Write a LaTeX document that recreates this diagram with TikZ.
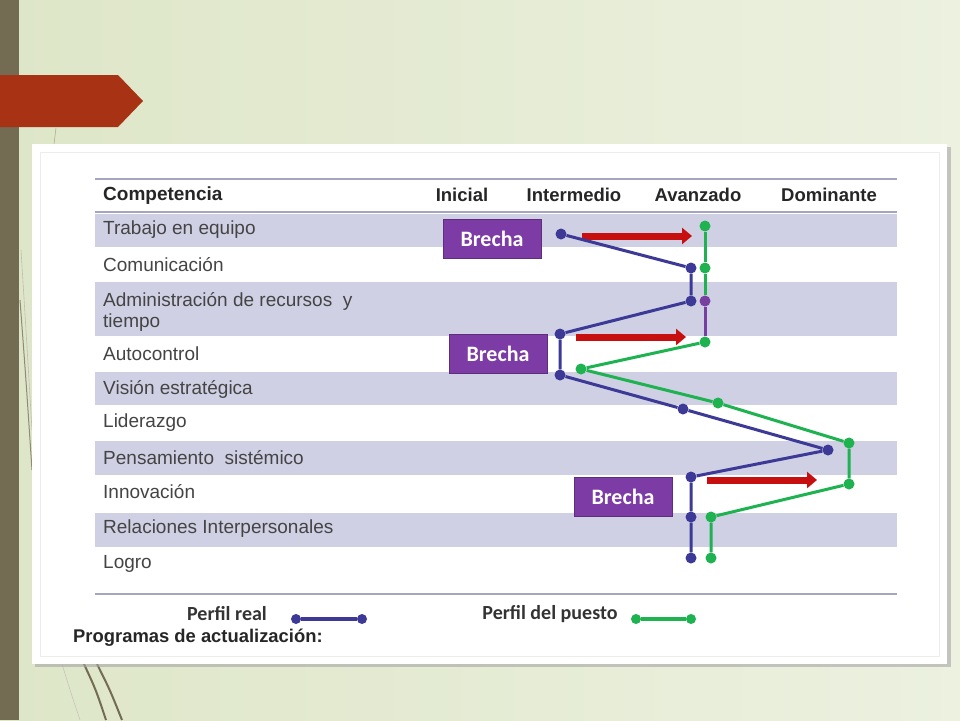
\documentclass[tikz,border=0pt]{standalone}
\usepackage{fontspec}
\setmainfont{Liberation Sans}
\newfontfamily\calibri{Carlito}
\usetikzlibrary{arrows.meta}

\definecolor{fondoA}{RGB}{222,230,200}
\definecolor{fondoB}{RGB}{236,241,224}
\definecolor{barra}{RGB}{115,107,82}
\definecolor{ladrillo}{RGB}{168,50,20}
\definecolor{banda}{RGB}{207,208,228}
\definecolor{regla}{RGB}{165,165,192}
\definecolor{texto}{RGB}{68,68,68}
\definecolor{azulreal}{RGB}{60,58,150}
\definecolor{verdepuesto}{RGB}{30,178,80}
\definecolor{morado}{RGB}{125,60,165}
\definecolor{violeta}{RGB}{120,62,160}
\definecolor{rojoflecha}{RGB}{200,15,15}

\tikzset{
  fila/.style={anchor=west, text=texto, font=\fontsize{19}{21.5}\selectfont, inner sep=0pt},
  nivel/.style={text=black!85, font=\bfseries\fontsize{18.5}{21}\selectfont, inner sep=0pt},
  rpt/.style={circle, fill=azulreal, inner sep=0pt, minimum size=11pt},
  ppt/.style={circle, fill=verdepuesto, inner sep=0pt, minimum size=11pt},
  realline/.style={draw=azulreal, line width=3pt},
  puestoline/.style={draw=verdepuesto, line width=3pt},
  brecha/.style={fill=morado, draw=morado!75!black, text=white, font=\calibri\bfseries\fontsize{22}{24}\selectfont, minimum width=98pt, minimum height=39pt},
  salto/.style={draw=rojoflecha, line width=7pt, -{Triangle[length=10pt,width=16pt]}},
  leyenda/.style={text=black!80, font=\calibri\bfseries\fontsize{20}{22}\selectfont, inner sep=0pt}
}

\begin{document}
\begin{tikzpicture}[x=1pt, y=-1pt]
    \useasboundingbox (0,0) rectangle (960,720);
    \shade[left color=fondoA, right color=fondoB] (0,0) rectangle (960,720);
    \fill[barra] (0,0) rectangle (19,720);
    \fill[ladrillo] (0,75) -- (118,75) -- (143,101) -- (118,127) -- (0,127) -- cycle;

    \draw[barra!45, line width=0.6pt] (21,250) .. controls (26,330) .. (32,430);
    \draw[barra!80, line width=1pt] (20,300) .. controls (26,380) .. (32,470);
    \draw[barra!60, line width=0.5pt] (56,128) -- (54,144);
    \draw[barra!40, line width=0.6pt] (62,664) .. controls (70,690) .. (80,720);
    \draw[barra, line width=2pt] (84,664) .. controls (96,690) .. (106,720);
    \draw[barra, line width=2pt] (97,664) .. controls (110,690) .. (122,720);

    \fill[black!35, opacity=0.6] (35,147) rectangle (951,667);
    \fill[white] (32,144) rectangle (947,664);
    \draw[black!7, line width=1pt] (40,152) rectangle (939,656);

    \fill[banda] (95,214) rectangle (897,247);
    \fill[banda] (95,282) rectangle (897,336);
    \fill[banda] (95,372) rectangle (897,405);
    \fill[banda] (95,441) rectangle (897,475);
    \fill[banda] (95,513) rectangle (897,547);
    \draw[regla, line width=2pt] (95,179) -- (897,179);
    \draw[regla, line width=2pt] (95,212) -- (897,212);
    \draw[regla, line width=2pt] (95,594) -- (897,594);

    \node[nivel, anchor=west, font=\bfseries\fontsize{19}{21}\selectfont] (competencia) at (103,196) {Competencia};
    \node[nivel] (inicial) at (462,195) {Inicial};
    \node[nivel] (intermedio) at (574,195) {Intermedio};
    \node[nivel] (avanzado) at (698,195) {Avanzado};
    \node[nivel] (dominante) at (829,195) {Dominante};

    \node[fila] (trabajo) at (103,230) {Trabajo en equipo};
    \node[fila] (comunicacion) at (103,265) {Comunicación};
    \node[fila, align=left] (administracion) at (103,312) {Administración de recursos~ y\\tiempo};
    \node[fila] (autocontrol) at (103,354) {Autocontrol};
    \node[fila] (vision) at (103,389) {Visión estratégica};
    \node[fila] (liderazgo) at (103,423) {Liderazgo};
    \node[fila] (pensamiento) at (103,458) {Pensamiento~ sistémico};
    \node[fila] (innovacion) at (103,492) {Innovación};
    \node[fila] (relaciones) at (103,529) {Relaciones Interpersonales};
    \node[fila] (logro) at (103,564) {Logro};

    \node[brecha] (brecha1) at (492,239) {Brecha};
    \node[brecha] (brecha2) at (498,354) {Brecha};
    \node[brecha] (brecha3) at (623,497) {Brecha};

    \coordinate (s1a) at (582,236);
    \coordinate (s1b) at (692,236);
    \coordinate (s2a) at (576,337);
    \coordinate (s2b) at (686,337);
    \coordinate (s3a) at (707,480);
    \coordinate (s3b) at (817,480);
    \draw[salto] (s1a) -- (s1b);
    \draw[salto] (s2a) -- (s2b);
    \draw[salto] (s3a) -- (s3b);

    \node[rpt] (r1) at (561,234) {};
    \node[rpt] (r2) at (691,268) {};
    \node[rpt] (r3) at (691,301) {};
    \node[rpt] (r4) at (560,334) {};
    \node[rpt] (r5) at (560,375) {};
    \node[rpt] (r6) at (683,409) {};
    \node[rpt] (r7) at (828,450) {};
    \node[rpt] (r8) at (691,477) {};
    \node[rpt] (r9) at (691,517) {};
    \node[rpt] (r10) at (691,558) {};

    \node[ppt] (p1) at (705,226) {};
    \node[ppt] (p2) at (705,268) {};
    \node[ppt, fill=violeta] (p3) at (705,301) {};
    \node[ppt] (p4) at (705,342) {};
    \node[ppt] (p5) at (581,369) {};
    \node[ppt] (p6) at (718,403) {};
    \node[ppt] (p7) at (849,443) {};
    \node[ppt] (p8) at (849,484) {};
    \node[ppt] (p9) at (711,517) {};
    \node[ppt] (p10) at (711,558) {};

    \draw[realline] (r1) -- (r2) -- (r3) -- (r4) -- (r5) -- (r6) -- (r7) -- (r8) -- (r9) -- (r10);
    \draw[puestoline] (p1) -- (p2) -- (p3);
    \draw[puestoline, draw=violeta] (p3) -- (p4);
    \draw[puestoline] (p4) -- (p5) -- (p6) -- (p7) -- (p8) -- (p9) -- (p10);

    \node[leyenda] (leyreal) at (227,614) {Perfil real};
    \node[rpt, minimum size=10pt] (lr1) at (296,619) {};
    \node[rpt, minimum size=10pt] (lr2) at (362,619) {};
    \draw[realline, line width=3.5pt] (lr1) -- (lr2);
    \node[leyenda] (leypuesto) at (550,614) {Perfil del puesto};
    \node[ppt, minimum size=10pt] (lp1) at (636,619) {};
    \node[ppt, minimum size=10pt] (lp2) at (691,619) {};
    \draw[puestoline, line width=3.5pt] (lp1) -- (lp2);
    \node[nivel, anchor=west, font=\bfseries\fontsize{18.4}{21}\selectfont] (programas) at (73,638) {Programas de actualización:};
\end{tikzpicture}
\end{document}
